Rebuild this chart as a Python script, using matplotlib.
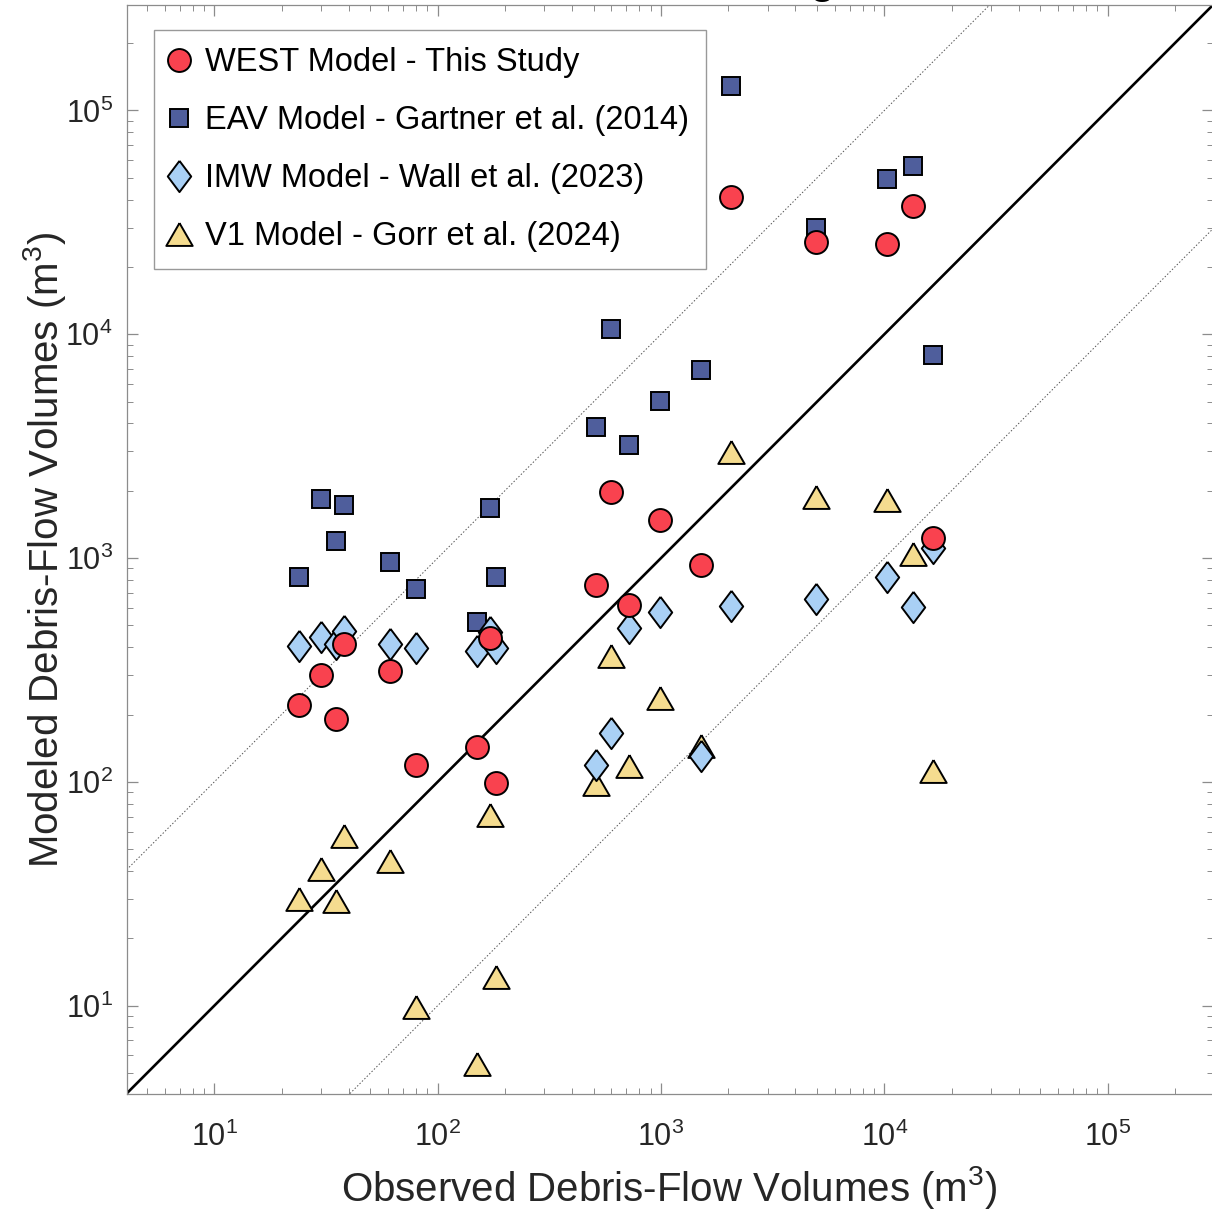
import matplotlib
matplotlib.use("Agg")
import matplotlib.pyplot as plt
import numpy as np

plt.rcParams["font.family"] = ["Liberation Sans", "DejaVu Sans"]
plt.rcParams["mathtext.fontset"] = "custom"
plt.rcParams["mathtext.rm"] = "Liberation Sans"
plt.rcParams["mathtext.it"] = "Liberation Sans:italic"
plt.rcParams["mathtext.bf"] = "Liberation Sans:bold"
plt.rcParams["mathtext.default"] = "regular"

# observed volumes (m^3), one per event
observed = [23.9, 29.9, 35.1, 37.9, 60.9, 80.0, 149.8, 170.8, 181.7, 510, 595, 722,
            987, 1517, 2048, 4932, 10260, 13370, 16540]
# modeled volumes (m^3)
west = [221, 299, 190, 411, 313, 119, 143, 441, 99.2, 757, 1970, 614,
        1487, 933, 40920, 25860, 25330, 37300, 1232]
eav = [827, 1840, 1190, 1735, 965, 729, 517, 1671, 825, 3858, 10570, 3193,
       5057, 6956, 129000, 29870, 49610, 56280, 8117]
imw = [404, 443, 411, 472, 411, 398, 384, 465, 398, 119, 165, 488,
       576, 130, 610, 653, 825, 606, 1112]
v1 = [29.9, 40.6, 29.3, 57.3, 44.3, 9.9, 5.47, 71.1, 13.4, 97.5, 367, 118,
      238, 145, 2984, 1871, 1814, 1045, 112]

labels = ["WEST Model - This Study", "EAV Model - Gartner et al. (2014)",
          "IMW Model - Wall et al. (2023)", "V1 Model - Gorr et al. (2024)"]

lims = (4.05, 2.95e5)
dark = "#262626"
axcol = "#8c8c8c"

fig = plt.figure(figsize=(12.12, 12.13), dpi=100)
ax = fig.add_axes([0.1045, 0.0985, 0.896, 0.8971])

# 1:1 and factor-of-10 reference lines
ref = np.array(lims)
ax.plot(ref, ref, color="black", lw=1.9, zorder=2)
ax.plot(ref, ref * 10, color="#555555", lw=0.7, ls=(0, (1.5, 2)), zorder=2)
ax.plot(ref, ref / 10, color="#555555", lw=0.7, ls=(0, (1.5, 2)), zorder=2)

thin_diamond = [(0, 1), (0.75, 0), (0, -1), (-0.75, 0), (0, 1)]
triangle = [(0, 0.866), (1, -0.866), (-1, -0.866), (0, 0.866)]

ax.plot(observed, west, ls="none", marker="o", ms=16.5, mfc="#F9424F", mec="black",
        mew=1.4, zorder=6, label=labels[0])
ax.plot(observed, eav, ls="none", marker="s", ms=13.5, mfc="#4F5E9C", mec="black",
        mew=1.4, zorder=4, label=labels[1])
ax.plot(observed, imw, ls="none", marker=thin_diamond, ms=22.5, mfc="#A9D0F5", mec="black",
        mew=1.4, zorder=5, label=labels[2])
ax.plot(observed, v1, ls="none", marker=triangle, ms=19, mfc="#F5DC8F", mec="black",
        mew=1.4, zorder=3, label=labels[3])

ax.set_xscale("log")
ax.set_yscale("log")
ax.set_xlim(lims)
ax.set_ylim(lims)

for s in ax.spines.values():
    s.set_color(axcol)
    s.set_linewidth(0.9)
ax.tick_params(which="both", direction="in", top=True, right=True, color=axcol,
               labelcolor=dark, labelsize=22)
ax.tick_params(which="major", length=8, width=0.9)
ax.tick_params(which="minor", length=4, width=0.7)
ax.tick_params(axis="x", which="major", pad=20)
ax.tick_params(axis="y", which="major", pad=10)

ax.set_xlabel("Observed Debris-Flow Volumes (m$^3$)", fontsize=29, color=dark, labelpad=8)
ax.set_ylabel("Modeled Debris-Flow Volumes (m$^3$)", fontsize=29, color=dark, labelpad=-2)

leg = ax.legend(loc="upper left", bbox_to_anchor=(0.0251, 0.9773), borderaxespad=0,
                fontsize=23.5, frameon=True, fancybox=False, framealpha=1,
                edgecolor="#999999", handlelength=0.52, handletextpad=0.52,
                labelspacing=0.83, borderpad=0.52, numpoints=1)
leg.get_frame().set_linewidth(1.0)
for t in leg.get_texts():
    t.set_color("black")

# the bottom of the cropped title's last letter
fig.text(822 / 1212, 1.0055, "g", ha="center", va="baseline", fontsize=30,
         fontweight="bold", color="black")

fig.savefig("out.png", dpi=100)
